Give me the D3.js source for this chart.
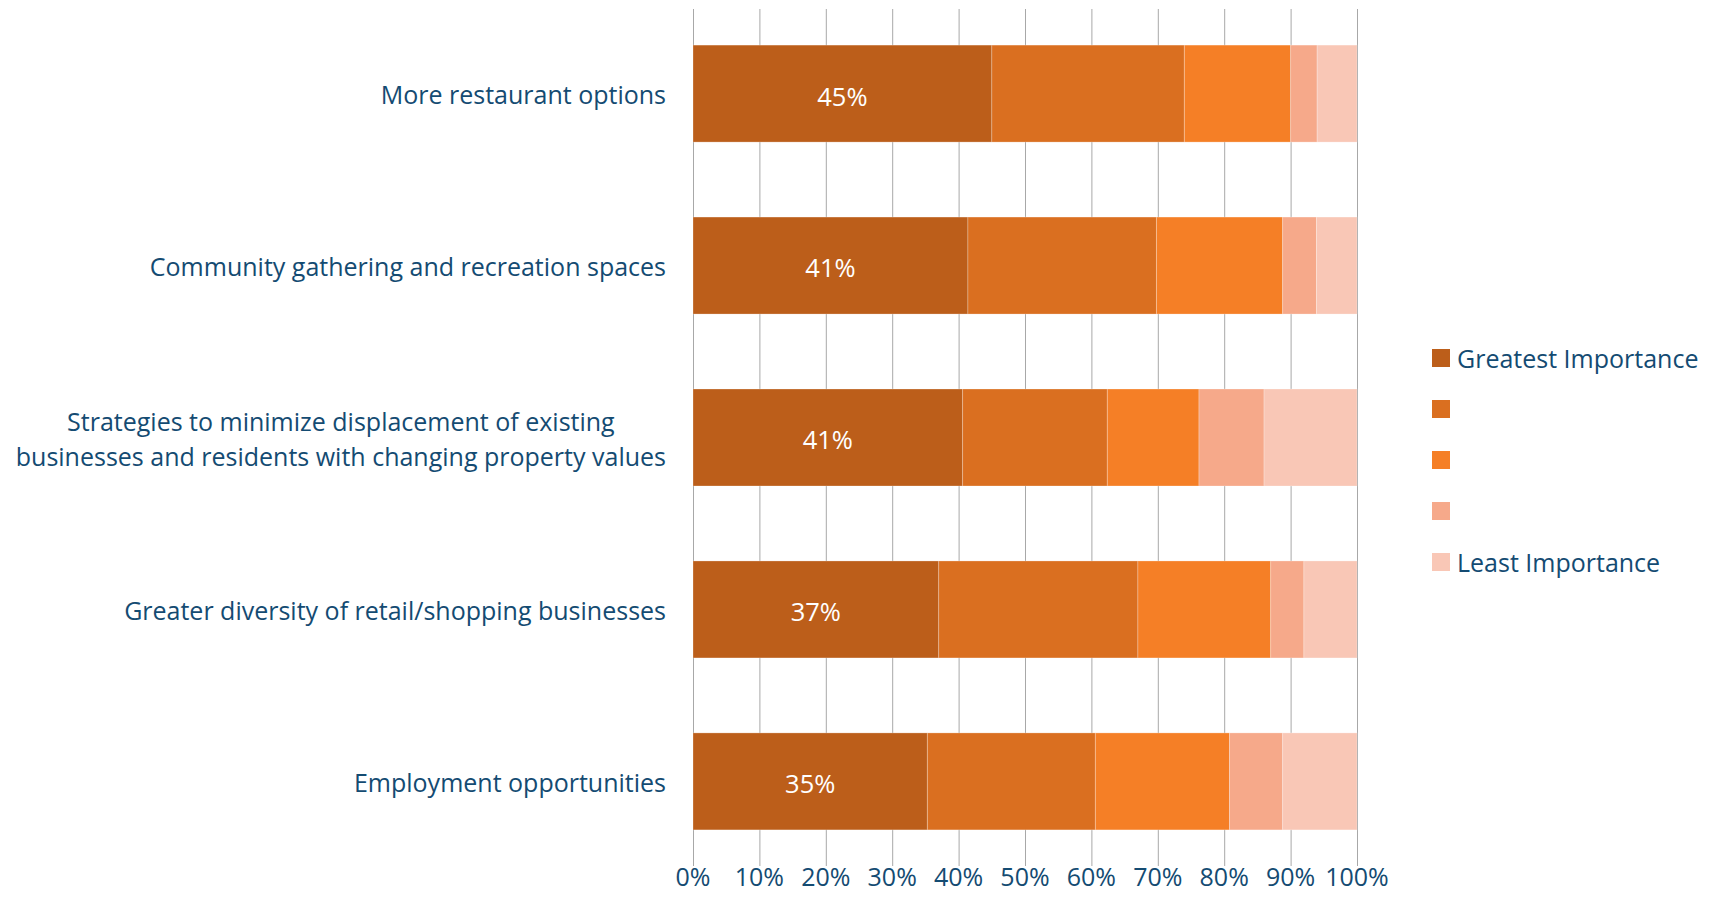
<!DOCTYPE html>
<html>
<head>
<meta charset="utf-8">
<script src="https://cdn.jsdelivr.net/npm/d3@7"></script>
<style>
  body { margin: 0; background: #fff; }
  text { font-family: 'Open Sans', 'Noto Sans', sans-serif; }
  .cat_label { fill: #144b72; font-size: 25px; }
  .tick_label { fill: #144b72; font-size: 25px; }
  .legend { fill: #144b72; font-size: 25px; }
  .bar_label { fill: #fff; font-size: 25.5px; }
</style>
</head>
<body>
<div id="chart"></div>
<script>
  // categories, top to bottom
  var categories = [
    'More restaurant options',
    'Community gathering and recreation spaces',
    'Strategies to minimize displacement of existing|businesses and residents with changing property values',
    'Greater diversity of retail/shopping businesses',
    'Employment opportunities'
  ];

  // share of answers per rank (percent), greatest -> least importance
  var rank1 = [45, 41.4, 40.6, 37, 35.3];
  var rank2 = [29, 28.4, 21.8, 30, 25.3];
  var rank3 = [16, 19, 13.8, 20, 20.2];
  var rank4 = [4, 5.1, 9.8, 5, 8];
  var rank5 = [6, 6.1, 14, 8, 11.2];

  var seriesNames = ['Greatest Importance', '', '', '', 'Least Importance'];
  var seriesColors = ['#bc5e1a', '#da6f20', '#f57f26', '#f6a98a', '#f9c7b6'];
  var tickValues = [0, 10, 20, 30, 40, 50, 60, 70, 80, 90, 100];

  var width = 1711;
  var height = 920;

  var svg = d3.select('#chart').append('svg')
    .attr('width', width)
    .attr('height', height);

  var series = [rank1, rank2, rank3, rank4, rank5];
  var data = categories.map(function(c, i) {
    var row = { cat: c };
    series.forEach(function(s, j) { row['r' + j] = s[i]; });
    return row;
  });
  var keys = series.map(function(s, j) { return 'r' + j; });
  var stacked = d3.stack().keys(keys)(data);

  var xScale = d3.scaleLinear()
    .domain([0, 100])
    .range([693, 1357]);

  var yScale = d3.scaleBand()
    .domain(categories)
    .range([9, 866])
    .paddingInner(0.436)
    .paddingOuter(0.21);

  // gridlines
  svg.append('g')
    .selectAll('line')
    .data(tickValues)
    .enter()
    .append('line')
    .attr('x1', function(d) { return xScale(d) + 0.5; })
    .attr('x2', function(d) { return xScale(d) + 0.5; })
    .attr('y1', 9)
    .attr('y2', 866)
    .attr('stroke', '#a8a8a8')
    .attr('stroke-width', 1);

  // tick labels
  svg.append('g')
    .selectAll('text')
    .data(tickValues)
    .enter()
    .append('text')
    .attr('class', 'tick_label')
    .attr('x', function(d) { return xScale(d); })
    .attr('y', 877)
    .attr('dy', '0.35em')
    .attr('text-anchor', 'middle')
    .text(function(d) { return d + '%'; });

  // bars
  svg.append('g')
    .selectAll('g')
    .data(stacked)
    .enter()
    .append('g')
    .attr('fill', function(d, i) { return seriesColors[i]; })
    .selectAll('rect')
    .data(function(d) { return d; })
    .enter()
    .append('rect')
    .attr('x', function(d) { return xScale(d[0]); })
    .attr('y', function(d) { return yScale(d.data.cat); })
    .attr('width', function(d) { return xScale(d[1]) - xScale(d[0]); })
    .attr('height', yScale.bandwidth())
    .attr('stroke', 'rgba(255,255,255,0.25)')
    .attr('stroke-width', 1);

  // first segment labels
  svg.append('g')
    .selectAll('text')
    .data(stacked[0])
    .enter()
    .append('text')
    .attr('class', 'bar_label')
    .attr('x', function(d) { return (xScale(d[0]) + xScale(d[1])) / 2; })
    .attr('y', function(d) { return yScale(d.data.cat) + yScale.bandwidth() / 2 + 3; })
    .attr('dy', '0.35em')
    .attr('text-anchor', 'middle')
    .text(function(d) { return Math.round(d[1] - d[0]) + '%'; });

  // category labels (multi-line ones are centred on their block)
  var labelRight = 666;
  var lineHeight = 35;
  categories.forEach(function(c) {
    var lines = c.split('|');
    var g = svg.append('g');
    var cy = yScale(c) + yScale.bandwidth() / 2 + 2;
    var texts = lines.map(function(l, i) {
      return g.append('text')
        .attr('class', 'cat_label')
        .attr('y', cy + (i - (lines.length - 1) / 2) * lineHeight)
        .attr('dy', '0.35em')
        .text(l);
    });
    var maxW = d3.max(texts, function(t) { return t.node().getComputedTextLength(); });
    texts.forEach(function(t) {
      t.attr('text-anchor', 'middle').attr('x', labelRight - maxW / 2);
    });
  });

  // legend
  var legend = svg.append('g')
    .selectAll('g')
    .data(seriesNames)
    .enter()
    .append('g')
    .attr('transform', function(d, i) {
      return 'translate(1432,' + (358 + i * 51) + ')';
    });

  legend.append('rect')
    .attr('x', 0)
    .attr('y', -9)
    .attr('width', 18)
    .attr('height', 18)
    .attr('fill', function(d, i) { return seriesColors[i]; });

  legend.append('text')
    .attr('class', 'legend')
    .attr('x', 25)
    .attr('y', 1)
    .attr('dy', '0.35em')
    .text(function(d) { return d; });
</script>
</body>
</html>
